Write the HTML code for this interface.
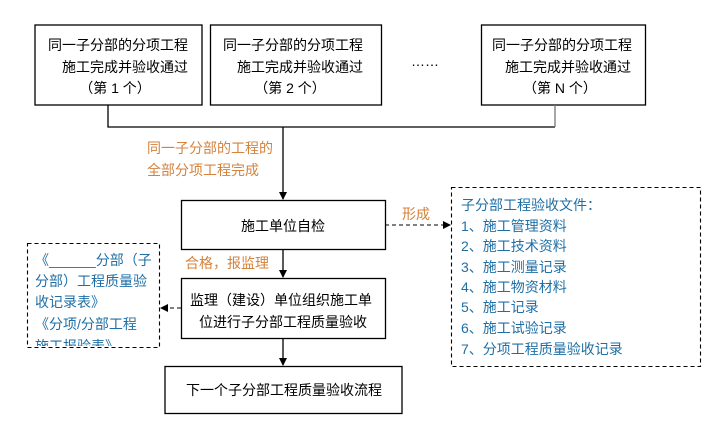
<!DOCTYPE html>
<html><head><meta charset="utf-8"><style>
body{margin:0;background:#fff;}
svg text{font-family:"Liberation Sans","Noto Sans CJK SC",sans-serif;font-size:14px;}
.k{fill:#000}.o{fill:#d4823c}.b{fill:#1f6fa6}
</style></head><body>
<svg width="724" height="435" viewBox="0 0 724 435" xmlns="http://www.w3.org/2000/svg">
<defs><marker id="a" markerWidth="8" markerHeight="8" refX="7" refY="4" orient="auto" markerUnits="userSpaceOnUse"><path d="M0,0 L8,4 L0,8z" fill="#000"/></marker></defs>
<g fill="none" stroke="#000" stroke-width="1.3">
<rect x="35" y="25" width="167" height="80"/>
<rect x="210.5" y="25" width="171" height="80"/>
<rect x="481.5" y="25" width="164" height="80"/>
<polyline points="108,105 108,127 555,127"/>
<line x1="555" y1="105" x2="555" y2="127" stroke="#777"/>
<line x1="283" y1="127" x2="283" y2="199" marker-end="url(#a)"/>
<rect x="181.5" y="200.5" width="204" height="49"/>
<line x1="283" y1="249" x2="283" y2="277" marker-end="url(#a)"/>
<rect x="181.5" y="278.5" width="204" height="60"/>
<line x1="283" y1="338" x2="283" y2="365" marker-end="url(#a)"/>
<rect x="165" y="366.5" width="237" height="47"/>
<g stroke-dasharray="4,3" stroke-width="1.1">
<rect x="451.5" y="187.5" width="249" height="179"/>
<rect x="27.5" y="243.5" width="132" height="104"/>
<line x1="385" y1="225" x2="450" y2="225" marker-end="url(#a)"/>
<line x1="181" y1="308" x2="161" y2="308" marker-end="url(#a)"/>
</g></g>
<g class="k" text-anchor="middle">
<text x="118" y="50">同一子分部的分项工程</text><text x="125" y="72">施工完成并验收通过</text><text x="115" y="93">（第 1 个）</text>
<text x="293" y="50">同一子分部的分项工程</text><text x="300" y="72">施工完成并验收通过</text><text x="290" y="93">（第 2 个）</text>
<text x="562" y="50">同一子分部的分项工程</text><text x="568" y="72">施工完成并验收通过</text><text x="560" y="93">（第 N 个）</text>
<text x="283" y="231">施工单位自检</text>
<text x="281" y="305">监理（建设）单位组织施工单</text>
<text x="283" y="327">位进行子分部工程质量验收</text>
<text x="284" y="395">下一个子分部工程质量验收流程</text>
</g>
<text x="411" y="66" class="k">……</text>
<g class="o"><text x="147" y="153">同一子分部的工程的</text><text x="147" y="175">全部分项工程完成</text>
<text x="185" y="268">合格，报监理</text><text x="402" y="219">形成</text></g>
<g class="b"><text x="461" y="210">子分部工程验收文件：</text>
<text x="461" y="231">1、施工管理资料</text><text x="461" y="251">2、施工技术资料</text><text x="461" y="272">3、施工测量记录</text>
<text x="461" y="292">4、施工物资材料</text><text x="461" y="312">5、施工记录</text><text x="461" y="333">6、施工试验记录</text>
<text x="461" y="354">7、分项工程质量验收记录</text></g>
<svg x="28" y="244" width="131" height="102"><g class="b" style="font-size:15px">
<text x="7" y="21">《______分部（子</text><text x="7" y="42">分部）工程质量验</text><text x="7" y="63">收记录表》</text>
<text x="7" y="85">《分项/分部工程</text><text x="7" y="107">施工报验表》</text></g></svg>
</svg>
</body></html>
